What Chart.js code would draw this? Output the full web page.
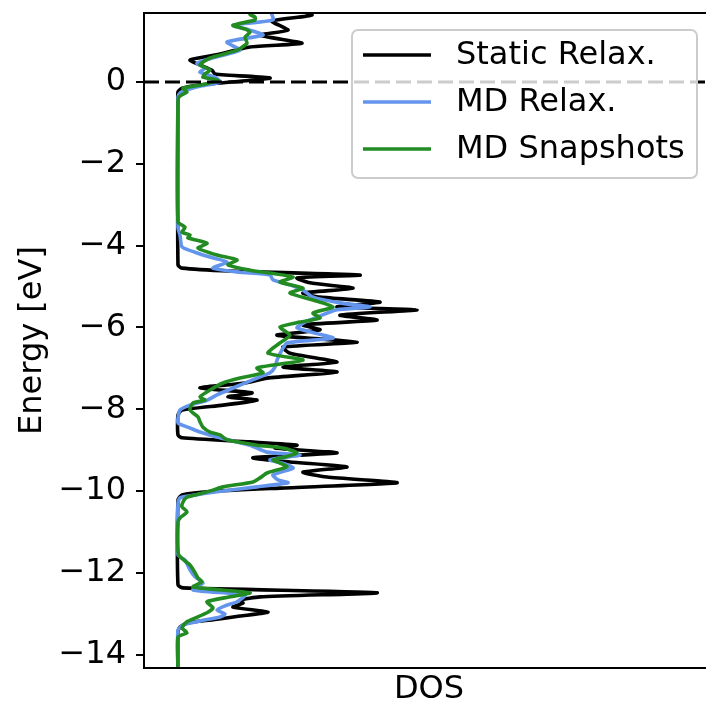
<!DOCTYPE html>
<html><head><meta charset="utf-8">
<script src="https://cdn.jsdelivr.net/npm/chart.js@4.4.1/dist/chart.umd.min.js"></script>
<style>
html,body{margin:0;padding:0;overflow:hidden;background:#fff;width:706px;height:709px}
#wrap{width:720px;height:709px;position:relative}
</style></head>
<body><div id="wrap"><canvas id="c" width="720" height="709"></canvas></div>
<script>
// ---- data (energy in eV, DOS in arbitrary units) ----
const seriesLabels = ['Static Relax.', 'MD Relax.', 'MD Snapshots'];
const seriesColors = ['#000000', '#6495ED', '#228B22'];

const staticEnergy = [1.81,1.64,1.49,1.27,1.15,0.95,0.86,0.66,0.54,0.42,0.29,0.20,0.10,0.02,-0.07,-0.15,-0.24,-0.44,-4.47,-4.55,-4.62,-4.72,-4.79,-4.91,-5.04,-5.16,-5.26,-5.38,-5.50,-5.57,-5.70,-5.82,-5.94,-6.06,-6.19,-6.36,-6.48,-6.63,-6.85,-6.97,-7.09,-7.24,-7.36,-7.48,-7.60,-7.70,-7.78,-7.90,-8.02,-8.14,-8.63,-8.70,-8.80,-8.88,-8.95,-9.07,-9.19,-9.29,-9.41,-9.54,-9.66,-9.80,-9.93,-10.02,-10.10,-10.22,-12.30,-12.37,-12.49,-12.59,-12.67,-12.74,-12.84,-12.96,-13.06,-13.15,-13.23,-13.33,-13.45,-14.38];
const staticDos = [1.12,1.34,0.94,1.10,0.82,1.24,0.72,0.37,0.12,0.22,0.34,0.37,0.92,0.62,0.22,0.04,0,0,0,0.04,0.52,1.82,1.19,1.32,1.75,1.25,1.42,2.02,1.59,2.39,1.62,1.99,1.25,1.42,0.99,1.79,1.05,1.12,1.59,1.05,1.59,0.89,0.67,0.22,0.74,0.50,0.79,0.45,0.04,0,0,0.04,0.72,1.19,0.97,1.59,0.75,1.12,1.69,1.25,1.49,2.19,1.02,0.29,0.04,0,0,0.05,1.99,0.82,0.62,0.65,0.55,0.90,0.62,0.35,0.09,0.02,0,0];

const mdRelaxEnergy = [1.76,1.52,1.39,1.27,1.15,0.98,0.78,0.61,0.46,0.34,0.24,0.12,0.00,-0.10,-0.20,-0.27,-0.37,-3.57,-3.74,-4.03,-4.16,-4.28,-4.40,-4.55,-4.65,-4.72,-4.84,-4.96,-5.09,-5.26,-5.40,-5.50,-5.57,-5.75,-5.87,-6.01,-6.14,-6.26,-6.38,-6.55,-6.80,-6.97,-7.11,-7.24,-7.41,-7.65,-7.78,-7.90,-8.02,-8.22,-8.34,-8.46,-8.56,-8.70,-8.88,-9.05,-9.12,-9.24,-9.34,-9.44,-9.61,-9.73,-9.80,-9.90,-10.02,-10.12,-10.17,-10.29,-11.56,-11.69,-11.93,-12.10,-12.25,-12.42,-12.54,-12.71,-12.81,-12.91,-13.01,-13.08,-13.18,-13.28,-13.40,-14.38];
const mdRelaxDos = [0.92,0.95,0.55,0.72,0.85,0.49,0.62,0.37,0.19,0.27,0.22,0.37,0.42,0.22,0.07,0.02,0,0,0.02,0.04,0.17,0.32,0.49,0.35,0.62,0.92,0.95,1.12,1.25,1.35,1.62,1.92,1.59,1.39,1.27,1.19,1.37,1.55,1.09,1.04,0.99,0.97,0.92,0.79,0.62,0.39,0.29,0.12,0.02,0,0,0.12,0.22,0.42,0.72,0.89,1.22,0.92,1.07,1.15,0.95,1.00,1.10,0.79,0.39,0.12,0.02,0,0,0.07,0.12,0.17,0.25,0.15,0.67,0.59,0.47,0.39,0.47,0.42,0.22,0.05,0,0];

const mdSnapEnergy = [1.81,1.66,1.59,1.52,1.39,1.30,1.22,1.10,0.95,0.78,0.66,0.59,0.49,0.42,0.29,0.20,0.12,0.05,-0.05,-0.15,-0.24,-0.34,-0.44,-3.42,-3.55,-3.67,-3.74,-3.81,-3.94,-4.06,-4.23,-4.35,-4.47,-4.60,-4.67,-4.77,-4.89,-5.04,-5.16,-5.33,-5.50,-5.65,-5.77,-5.87,-5.99,-6.19,-6.38,-6.63,-6.80,-6.99,-7.11,-7.24,-7.36,-7.53,-7.70,-7.78,-7.85,-8.02,-8.19,-8.31,-8.44,-8.56,-8.63,-8.75,-8.88,-8.95,-9.07,-9.17,-9.24,-9.32,-9.41,-9.56,-9.68,-9.78,-9.90,-9.98,-10.07,-10.15,-10.27,-10.39,-10.51,-10.66,-10.76,-11.49,-11.61,-11.81,-12.00,-12.13,-12.22,-12.35,-12.49,-12.59,-12.71,-12.86,-12.98,-13.11,-13.20,-13.35,-13.47,-13.57,-14.38];
const mdSnapDos = [0.84,0.72,0.77,0.77,0.55,0.67,0.72,0.67,0.69,0.59,0.42,0.32,0.25,0.22,0.32,0.27,0.25,0.40,0.27,0.05,0.09,0.02,0,0,0.07,0.04,0.12,0.10,0.29,0.20,0.39,0.59,0.50,0.72,0.92,1.15,1.02,1.25,1.12,1.35,1.55,1.35,1.42,1.22,1.02,1.12,1.02,0.90,1.25,0.79,0.85,0.62,0.45,0.32,0.22,0.27,0.15,0.12,0.20,0.22,0.25,0.32,0.42,0.49,0.79,1.05,1.19,1.07,0.95,1.02,1.09,0.89,0.82,0.75,0.45,0.35,0.22,0.09,0.05,0.04,0.09,0.02,0,0,0.02,0.12,0.17,0.20,0.24,0.15,0.72,0.52,0.29,0.35,0.29,0.17,0.09,0.04,0.09,0,0];

const yTickValues = [0,-2,-4,-6,-8,-10,-12,-14];
const yTickLabels = ['0','\u22122','\u22124','\u22126','\u22128','\u221210','\u221212','\u221214'];
const fermiLevel = 0;

// ---- build ----
function pts(E, D){ const n=Math.min(E.length,D.length); const a=[]; for(let i=0;i<n;i++) a.push({x:D[i], y:E[i]}); return a; }
const FONT = 'DejaVu Sans';
const FS = 32;
const LW = 3.6;

function ds(i, E, D, order){
  return { label: seriesLabels[i], data: pts(E,D), borderColor: seriesColors[i], backgroundColor: seriesColors[i],
    borderWidth: LW, pointRadius: 0, showLine: true, tension: 0.2, order: order, borderJoinStyle:'round', borderCapStyle:'round' };
}

const framePlugin = {
  id: 'frame',
  afterDatasetsDraw(chart){
    const {ctx, chartArea:a, scales} = chart;
    const y0 = scales.y.getPixelForValue(fermiLevel);
    ctx.save();
    ctx.strokeStyle = '#000'; ctx.lineWidth = 3; ctx.setLineDash([15,6]);
    ctx.beginPath(); ctx.moveTo(a.left, y0); ctx.lineTo(a.right, y0); ctx.stroke();
    ctx.setLineDash([]);
    ctx.lineWidth = 2;
    ctx.beginPath();
    ctx.moveTo(a.right, a.top); ctx.lineTo(a.left, a.top); ctx.lineTo(a.left, a.bottom); ctx.lineTo(a.right, a.bottom);
    ctx.stroke();
    ctx.restore();
  },
  afterDraw(chart){
    const {ctx, chartArea:a} = chart;
    const w = 345, h = 148;
    const x = a.right - 17 - w, y = a.top + 17;
    ctx.save();
    ctx.beginPath();
    ctx.roundRect(x, y, w, h, 6);
    ctx.fillStyle = 'rgba(255,255,255,0.8)'; ctx.fill();
    ctx.strokeStyle = '#cccccc'; ctx.lineWidth = 2; ctx.stroke();
    ctx.font = FS + 'px "' + FONT + '"';
    ctx.textBaseline = 'middle'; ctx.textAlign = 'left';
    chart.data.datasets.forEach((d, i) => {
      const ry = y + 25 + i * 47;
      ctx.strokeStyle = d.borderColor; ctx.lineWidth = LW;
      ctx.beginPath(); ctx.moveTo(x + 11, ry); ctx.lineTo(x + 79, ry); ctx.stroke();
      ctx.fillStyle = '#000';
      ctx.fillText(d.label, x + 104, ry + 1);
    });
    ctx.restore();
  }
};

new Chart(document.getElementById('c'), {
  type: 'scatter',
  data: { datasets: [
    ds(0, staticEnergy, staticDos, 3),
    ds(1, mdRelaxEnergy, mdRelaxDos, 2),
    ds(2, mdSnapEnergy, mdSnapDos, 1)
  ]},
  options: {
    responsive: false, animation: false, devicePixelRatio: 1,
    layout: { padding: { left: 0, top: 13, right: 6, bottom: 0 } },
    plugins: { legend: { display: false }, tooltip: { enabled: false } },
    scales: {
      x: { type: 'linear', min: -0.34, max: 5.36,
        ticks: { display: false }, grid: { display: false }, border: { display: false },
        title: { display: true, text: 'DOS', color: '#000', font: { family: FONT, size: FS }, padding: { top: 0, bottom: 0 } },
        afterFit(s){ s.height = 41; s.paddingLeft = 0; s.paddingRight = 0; } },
      y: { type: 'linear', min: -14.33, max: 1.69,
        afterBuildTicks(s){ s.ticks = yTickValues.map(v => ({ value: v })); },
        ticks: { color: '#000', font: { family: FONT, size: FS }, padding: 10,
          callback(v){ const i = yTickValues.indexOf(v); return i >= 0 ? yTickLabels[i] : ''; } },
        grid: { drawOnChartArea: false, drawTicks: true, tickLength: 8, color: '#000', lineWidth: 2 },
        border: { display: false },
        title: { display: true, text: 'Energy [eV]', color: '#000', font: { family: FONT, size: FS }, padding: { top: 13, bottom: 0 } },
        afterFit(s){ s.width = 144; s.paddingTop = 0; s.paddingBottom = 0; } }
    }
  },
  plugins: [framePlugin]
});
</script>
</body></html>
